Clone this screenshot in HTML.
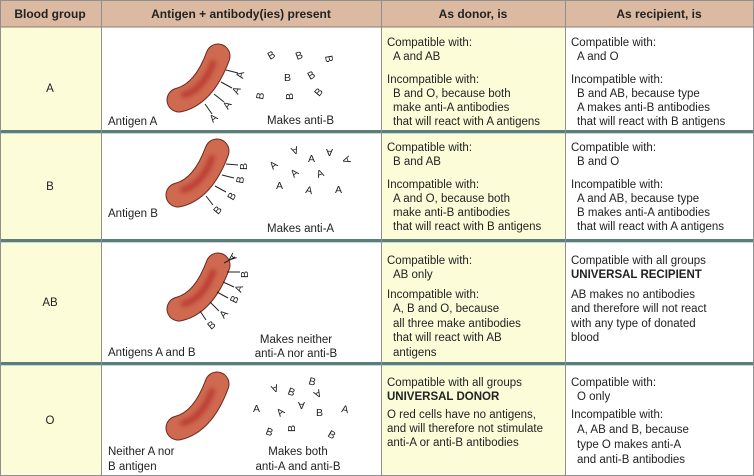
<!DOCTYPE html>
<html><head><meta charset="utf-8"><style>
html,body{margin:0;padding:0;background:#fff;}
svg{display:block;font-family:"Liberation Sans",Arial,sans-serif;}
.t{font-size:11.5px;fill:#222;}
.h{font-size:12px;font-weight:bold;fill:#222;}
.l{font-size:10.5px;fill:#222;}
</style></head><body>
<svg width="754" height="476" viewBox="0 0 754 476" xmlns="http://www.w3.org/2000/svg">
<defs>
<filter id="bl" x="-50%" y="-50%" width="200%" height="200%"><feGaussianBlur stdDeviation="2.5"/></filter>
<g id="bean">
<path d="M-22,22 Q3,16 17,-22" fill="none" stroke="#6a2a1e" stroke-width="25" stroke-linecap="round"/>
<path d="M-22,22 Q3,16 17,-22" fill="none" stroke="#cf6a50" stroke-width="23" stroke-linecap="round"/>
<path d="M-17,17 Q2,12 12,-15" fill="none" stroke="#b5302a" stroke-width="6" stroke-linecap="round" stroke-opacity="0.8" filter="url(#bl)"/>
</g>
</defs>
<rect x="0" y="0" width="754" height="476" fill="#fff"/>
<rect x="0" y="27" width="101" height="449" fill="#fdfcd9"/>
<rect x="381" y="27" width="184" height="449" fill="#fdfcd9"/>
<rect x="0" y="0" width="754" height="27" fill="#dcbaa2"/>
<line x1="0" y1="27" x2="754" y2="27" stroke="#8a7a70" stroke-width="1"/>
<rect x="0" y="130" width="754" height="3" fill="#5a7f7b"/>
<rect x="0" y="239" width="754" height="3" fill="#5a7f7b"/>
<rect x="0" y="362" width="754" height="3" fill="#5a7f7b"/>
<line x1="0" y1="133.5" x2="754" y2="133.5" stroke="#c8d4d2"/>
<line x1="0" y1="242.5" x2="754" y2="242.5" stroke="#c8d4d2"/>
<line x1="0" y1="365.5" x2="754" y2="365.5" stroke="#c8d4d2"/>
<line x1="101.5" y1="0" x2="101.5" y2="476" stroke="#8f8f8f"/>
<line x1="381.5" y1="0" x2="381.5" y2="476" stroke="#8f8f8f"/>
<line x1="565.5" y1="0" x2="565.5" y2="476" stroke="#8f8f8f"/>
<line x1="0.5" y1="0" x2="0.5" y2="476" stroke="#8f8f8f"/>
<line x1="753.5" y1="0" x2="753.5" y2="476" stroke="#8f8f8f"/>
<line x1="0" y1="475.5" x2="754" y2="475.5" stroke="#8f8f8f"/>
<line x1="0" y1="0.5" x2="754" y2="0.5" stroke="#8f8f8f"/>
<text class="h" x="50" y="18" text-anchor="middle">Blood group</text>
<text class="h" x="241" y="18" text-anchor="middle">Antigen + antibody(ies) present</text>
<text class="h" x="473" y="18" text-anchor="middle">As donor, is</text>
<text class="h" x="659" y="18" text-anchor="middle">As recipient, is</text>
<text class="t" x="50" y="92" text-anchor="middle">A</text>
<text class="t" x="50" y="190" text-anchor="middle">B</text>
<text class="t" x="50" y="306" text-anchor="middle">AB</text>
<text class="t" x="50" y="424" text-anchor="middle">O</text>

<use href="#bean" x="201" y="78"/>
<g stroke="#222" stroke-width="1">
<line x1="226" y1="70" x2="238" y2="73"/><line x1="221" y1="82" x2="232" y2="88"/>
<line x1="214" y1="94" x2="224" y2="102"/><line x1="205" y1="104" x2="212" y2="114"/>
</g>
<text transform="translate(243,79) rotate(-80)" class="l">A</text>
<text transform="translate(238,95) rotate(-65)" class="l">A</text>
<text transform="translate(228,110) rotate(-55)" class="l">A</text>
<text transform="translate(213,123) rotate(-40)" class="l">A</text>
<text transform="translate(270,60) rotate(-30)" class="l">B</text>
<text transform="translate(297,60) rotate(-20)" class="l">B</text>
<text transform="translate(325,56) rotate(80)" class="l">B</text>
<text transform="translate(284,81) rotate(0)" class="l">B</text>
<text transform="translate(310,80) rotate(-30)" class="l">B</text>
<text transform="translate(263,100) rotate(-80)" class="l">B</text>
<text transform="translate(293,100) rotate(-90)" class="l">B</text>
<text transform="translate(319,97) rotate(-50)" class="l">B</text>
<text class="t" x="108" y="125">Antigen A</text>
<text class="t" x="267" y="124">Makes anti-B</text>

<use href="#bean" x="200" y="173"/>
<g stroke="#222" stroke-width="1">
<line x1="226" y1="164" x2="238" y2="165"/><line x1="222" y1="175" x2="234" y2="178"/>
<line x1="215" y1="186" x2="226" y2="192"/><line x1="206" y1="196" x2="213" y2="205"/>
</g>
<text transform="translate(247,170) rotate(-90)" class="l">B</text>
<text transform="translate(243,184) rotate(-80)" class="l">B</text>
<text transform="translate(233,201) rotate(-60)" class="l">B</text>
<text transform="translate(218,215) rotate(-50)" class="l">B</text>
<text transform="translate(273,170) rotate(-40)" class="l">A</text>
<text transform="translate(297,146) rotate(160)" class="l">A</text>
<text transform="translate(308,162)" class="l">A</text>
<text transform="translate(294,178) rotate(-40)" class="l">A</text>
<text transform="translate(333,149) rotate(180)" class="l">A</text>
<text transform="translate(318,178) rotate(-20)" class="l">A</text>
<text transform="translate(351,162) rotate(-110)" class="l">A</text>
<text transform="translate(276,189)" class="l">A</text>
<text transform="translate(305,193) rotate(10)" class="l">A</text>
<text transform="translate(335,193)" class="l">A</text>
<text class="t" x="108" y="217">Antigen B</text>
<text class="t" x="267" y="232">Makes anti-A</text>

<use href="#bean" x="201" y="287"/>
<g stroke="#222" stroke-width="1">
<line x1="224" y1="263" x2="235" y2="257"/><line x1="227" y1="272" x2="240" y2="272"/>
<line x1="223" y1="282" x2="234" y2="287"/><line x1="217" y1="292" x2="228" y2="298"/>
<line x1="210" y1="302" x2="219" y2="311"/><line x1="200" y1="311" x2="206" y2="320"/>
</g>
<text transform="translate(237,258) rotate(-130)" class="l">A</text>
<text transform="translate(248,278) rotate(-90)" class="l">B</text>
<text transform="translate(241,293) rotate(-70)" class="l">A</text>
<text transform="translate(236,304) rotate(-65)" class="l">B</text>
<text transform="translate(224,319) rotate(-50)" class="l">A</text>
<text transform="translate(211,330) rotate(-40)" class="l">B</text>
<text class="t" x="108" y="356">Antigens A and B</text>
<text class="t" x="296" y="343" text-anchor="middle">Makes neither</text>
<text class="t" x="296" y="357" text-anchor="middle">anti-A nor anti-B</text>

<use href="#bean" x="200" y="406"/>
<text transform="translate(277,384) rotate(160)" class="l">A</text>
<text transform="translate(287,394) rotate(20)" class="l">B</text>
<text transform="translate(308,384) rotate(15)" class="l">B</text>
<text transform="translate(319,389) rotate(150)" class="l">A</text>
<text transform="translate(253,412)" class="l">A</text>
<text transform="translate(280,417) rotate(-40)" class="l">A</text>
<text transform="translate(305,402) rotate(180)" class="l">A</text>
<text transform="translate(316,416)" class="l">B</text>
<text transform="translate(341,412) rotate(10)" class="l">A</text>
<text transform="translate(265,434) rotate(20)" class="l">B</text>
<text transform="translate(295,432) rotate(-90)" class="l">B</text>
<text transform="translate(327,436) rotate(30)" class="l">B</text>
<text class="t" x="108" y="455">Neither A nor</text>
<text class="t" x="108" y="470">B antigen</text>
<text class="t" x="298" y="455" text-anchor="middle">Makes both</text>
<text class="t" x="298" y="470" text-anchor="middle">anti-A and anti-B</text>

<text class="t" x="387" y="46">Compatible with:</text>
<text class="t" x="393" y="60">A and AB</text>
<text class="t" x="387" y="83">Incompatible with:</text>
<text class="t" x="393" y="97">B and O, because both</text>
<text class="t" x="393" y="111">make anti-A antibodies</text>
<text class="t" x="393" y="125">that will react with A antigens</text>
<text class="t" x="571" y="46">Compatible with:</text>
<text class="t" x="577" y="60">A and O</text>
<text class="t" x="571" y="83">Incompatible with:</text>
<text class="t" x="577" y="97">B and AB, because type</text>
<text class="t" x="577" y="111">A makes anti-B antibodies</text>
<text class="t" x="577" y="125">that will react with B antigens</text>

<text class="t" x="387" y="151">Compatible with:</text>
<text class="t" x="393" y="165">B and AB</text>
<text class="t" x="387" y="188">Incompatible with:</text>
<text class="t" x="393" y="202">A and O, because both</text>
<text class="t" x="393" y="216">make anti-B antibodies</text>
<text class="t" x="393" y="230">that will react with B antigens</text>
<text class="t" x="571" y="151">Compatible with:</text>
<text class="t" x="577" y="165">B and O</text>
<text class="t" x="571" y="188">Incompatible with:</text>
<text class="t" x="577" y="202">A and AB, because type</text>
<text class="t" x="577" y="216">B makes anti-A antibodies</text>
<text class="t" x="577" y="230">that will react with A antigens</text>

<text class="t" x="387" y="264">Compatible with:</text>
<text class="t" x="393" y="278">AB only</text>
<text class="t" x="387" y="298">Incompatible with:</text>
<text class="t" x="393" y="312">A, B and O, because</text>
<text class="t" x="393" y="327">all three make antibodies</text>
<text class="t" x="393" y="341">that will react with AB</text>
<text class="t" x="393" y="356">antigens</text>
<text class="t" x="571" y="264">Compatible with all groups</text>
<text class="t" x="571" y="278" font-weight="bold">UNIVERSAL RECIPIENT</text>
<text class="t" x="571" y="298">AB makes no antibodies</text>
<text class="t" x="571" y="312">and therefore will not react</text>
<text class="t" x="571" y="327">with any type of donated</text>
<text class="t" x="571" y="341">blood</text>

<text class="t" x="387" y="386">Compatible with all groups</text>
<text class="t" x="387" y="400" font-weight="bold">UNIVERSAL DONOR</text>
<text class="t" x="387" y="418">O red cells have no antigens,</text>
<text class="t" x="387" y="432">and will therefore not stimulate</text>
<text class="t" x="387" y="446">anti-A or anti-B antibodies</text>
<text class="t" x="571" y="386">Compatible with:</text>
<text class="t" x="577" y="400">O only</text>
<text class="t" x="571" y="418">Incompatible with:</text>
<text class="t" x="577" y="433">A, AB and B, because</text>
<text class="t" x="577" y="448">type O makes anti-A</text>
<text class="t" x="577" y="463">and anti-B antibodies</text>
</svg>
</body></html>
